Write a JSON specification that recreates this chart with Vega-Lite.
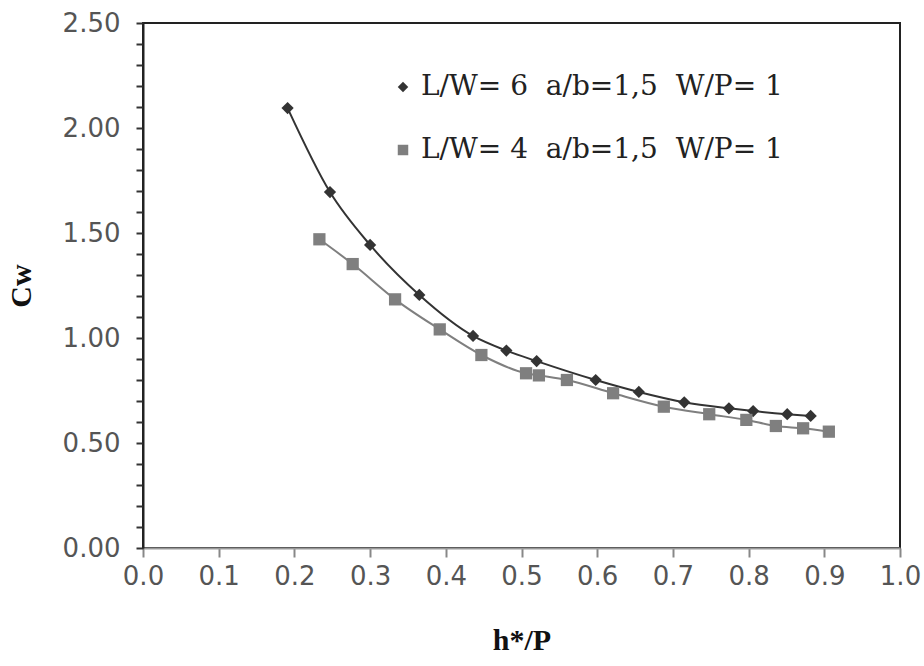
{
  "$schema": "https://vega.github.io/schema/vega-lite/v6.json",
  "width": 757,
  "height": 525,
  "autosize": "none",
  "padding": {"left": 143, "top": 23, "right": 24, "bottom": 118},
  "background": "white",
  "config": {
    "view": {"stroke": "#222", "strokeWidth": 2},
    "font": "DejaVu Sans",
    "legend": {
      "title": null, "orient": "none", "legendX": 246, "legendY": 50,
      "labelFont": "DejaVu Serif", "labelFontSize": 28, "labelColor": "#222",
      "symbolSize": 110, "rowPadding": 35, "labelOffset": 4, "padding": 0,
      "labelLimit": 600, "symbolStrokeWidth": 0
    }
  },
  "data": {
    "values": [
      {"series": "L/W= 6 \u00a0a/b=1,5 \u00a0W/P= 1", "h": 0.191, "cw": 2.095},
      {"series": "L/W= 6 \u00a0a/b=1,5 \u00a0W/P= 1", "h": 0.247, "cw": 1.695},
      {"series": "L/W= 6 \u00a0a/b=1,5 \u00a0W/P= 1", "h": 0.300, "cw": 1.443},
      {"series": "L/W= 6 \u00a0a/b=1,5 \u00a0W/P= 1", "h": 0.365, "cw": 1.205},
      {"series": "L/W= 6 \u00a0a/b=1,5 \u00a0W/P= 1", "h": 0.436, "cw": 1.010},
      {"series": "L/W= 6 \u00a0a/b=1,5 \u00a0W/P= 1", "h": 0.480, "cw": 0.940},
      {"series": "L/W= 6 \u00a0a/b=1,5 \u00a0W/P= 1", "h": 0.520, "cw": 0.890},
      {"series": "L/W= 6 \u00a0a/b=1,5 \u00a0W/P= 1", "h": 0.598, "cw": 0.800},
      {"series": "L/W= 6 \u00a0a/b=1,5 \u00a0W/P= 1", "h": 0.655, "cw": 0.743},
      {"series": "L/W= 6 \u00a0a/b=1,5 \u00a0W/P= 1", "h": 0.715, "cw": 0.694},
      {"series": "L/W= 6 \u00a0a/b=1,5 \u00a0W/P= 1", "h": 0.774, "cw": 0.665},
      {"series": "L/W= 6 \u00a0a/b=1,5 \u00a0W/P= 1", "h": 0.806, "cw": 0.652},
      {"series": "L/W= 6 \u00a0a/b=1,5 \u00a0W/P= 1", "h": 0.851, "cw": 0.637},
      {"series": "L/W= 6 \u00a0a/b=1,5 \u00a0W/P= 1", "h": 0.882, "cw": 0.629},
      {"series": "L/W= 4 \u00a0a/b=1,5 \u00a0W/P= 1", "h": 0.233, "cw": 1.470},
      {"series": "L/W= 4 \u00a0a/b=1,5 \u00a0W/P= 1", "h": 0.277, "cw": 1.352},
      {"series": "L/W= 4 \u00a0a/b=1,5 \u00a0W/P= 1", "h": 0.333, "cw": 1.184},
      {"series": "L/W= 4 \u00a0a/b=1,5 \u00a0W/P= 1", "h": 0.392, "cw": 1.041},
      {"series": "L/W= 4 \u00a0a/b=1,5 \u00a0W/P= 1", "h": 0.447, "cw": 0.919},
      {"series": "L/W= 4 \u00a0a/b=1,5 \u00a0W/P= 1", "h": 0.506, "cw": 0.832},
      {"series": "L/W= 4 \u00a0a/b=1,5 \u00a0W/P= 1", "h": 0.523, "cw": 0.822},
      {"series": "L/W= 4 \u00a0a/b=1,5 \u00a0W/P= 1", "h": 0.560, "cw": 0.800},
      {"series": "L/W= 4 \u00a0a/b=1,5 \u00a0W/P= 1", "h": 0.621, "cw": 0.737},
      {"series": "L/W= 4 \u00a0a/b=1,5 \u00a0W/P= 1", "h": 0.688, "cw": 0.673},
      {"series": "L/W= 4 \u00a0a/b=1,5 \u00a0W/P= 1", "h": 0.748, "cw": 0.637},
      {"series": "L/W= 4 \u00a0a/b=1,5 \u00a0W/P= 1", "h": 0.797, "cw": 0.610},
      {"series": "L/W= 4 \u00a0a/b=1,5 \u00a0W/P= 1", "h": 0.836, "cw": 0.581},
      {"series": "L/W= 4 \u00a0a/b=1,5 \u00a0W/P= 1", "h": 0.872, "cw": 0.570},
      {"series": "L/W= 4 \u00a0a/b=1,5 \u00a0W/P= 1", "h": 0.906, "cw": 0.554}
    ]
  },
  "encoding": {
    "x": {
      "field": "h", "type": "quantitative",
      "scale": {"domain": [0, 1], "nice": false, "zero": false},
      "axis": {
        "title": "h*/P",
        "values": [0, 0.1, 0.2, 0.3, 0.4, 0.5, 0.6, 0.7, 0.8, 0.9, 1.0],
        "format": ".1f",
        "grid": false,
        "domainColor": "#999", "domainWidth": 2,
        "tickColor": "#888", "tickWidth": 2, "tickSize": 9,
        "labelFont": "DejaVu Sans", "labelFontSize": 26, "labelColor": "#555",
        "labelPadding": 6, "labelFlush": false, "labelDx": -3,
        "titleFont": "Liberation Serif", "titleFontSize": 30, "titleFontWeight": "bold",
        "titleColor": "#111", "titlePadding": 36, "zindex": 1
      }
    },
    "y": {
      "field": "cw", "type": "quantitative",
      "scale": {"domain": [0, 2.5], "nice": false},
      "axis": {
        "title": "Cw",
        "values": [0, 0.1, 0.2, 0.3, 0.4, 0.5, 0.6, 0.7, 0.8, 0.9, 1.0, 1.1, 1.2, 1.3, 1.4, 1.5, 1.6, 1.7, 1.8, 1.9, 2.0, 2.1, 2.2, 2.3, 2.4, 2.5],
        "labelExpr": "abs(datum.value * 2 - round(datum.value * 2)) < 0.001 ? format(datum.value, '.2f') : ''",
        "grid": false,
        "domainColor": "#222", "domainWidth": 2,
        "tickColor": "#333", "tickWidth": 2, "tickSize": 7,
        "labelFont": "DejaVu Sans", "labelFontSize": 26, "labelColor": "#555",
        "labelPadding": 16, "labelFlush": false,
        "titleFont": "Liberation Serif", "titleFontSize": 30, "titleFontWeight": "bold",
        "titleColor": "#111", "titlePadding": 26, "zindex": 1
      }
    },
    "color": {
      "field": "series", "type": "nominal",
      "scale": {"domain": ["L/W= 6 \u00a0a/b=1,5 \u00a0W/P= 1", "L/W= 4 \u00a0a/b=1,5 \u00a0W/P= 1"], "range": ["#333333", "#7f7f7f"]}
    }
  },
  "layer": [
    {
      "mark": {"type": "line", "interpolate": "monotone", "strokeWidth": 2}
    },
    {
      "mark": {"type": "point", "filled": true, "opacity": 1, "size": 150},
      "encoding": {
        "shape": {
          "field": "series", "type": "nominal",
          "scale": {"domain": ["L/W= 6 \u00a0a/b=1,5 \u00a0W/P= 1", "L/W= 4 \u00a0a/b=1,5 \u00a0W/P= 1"], "range": ["diamond", "square"]}
        }
      }
    }
  ]
}
